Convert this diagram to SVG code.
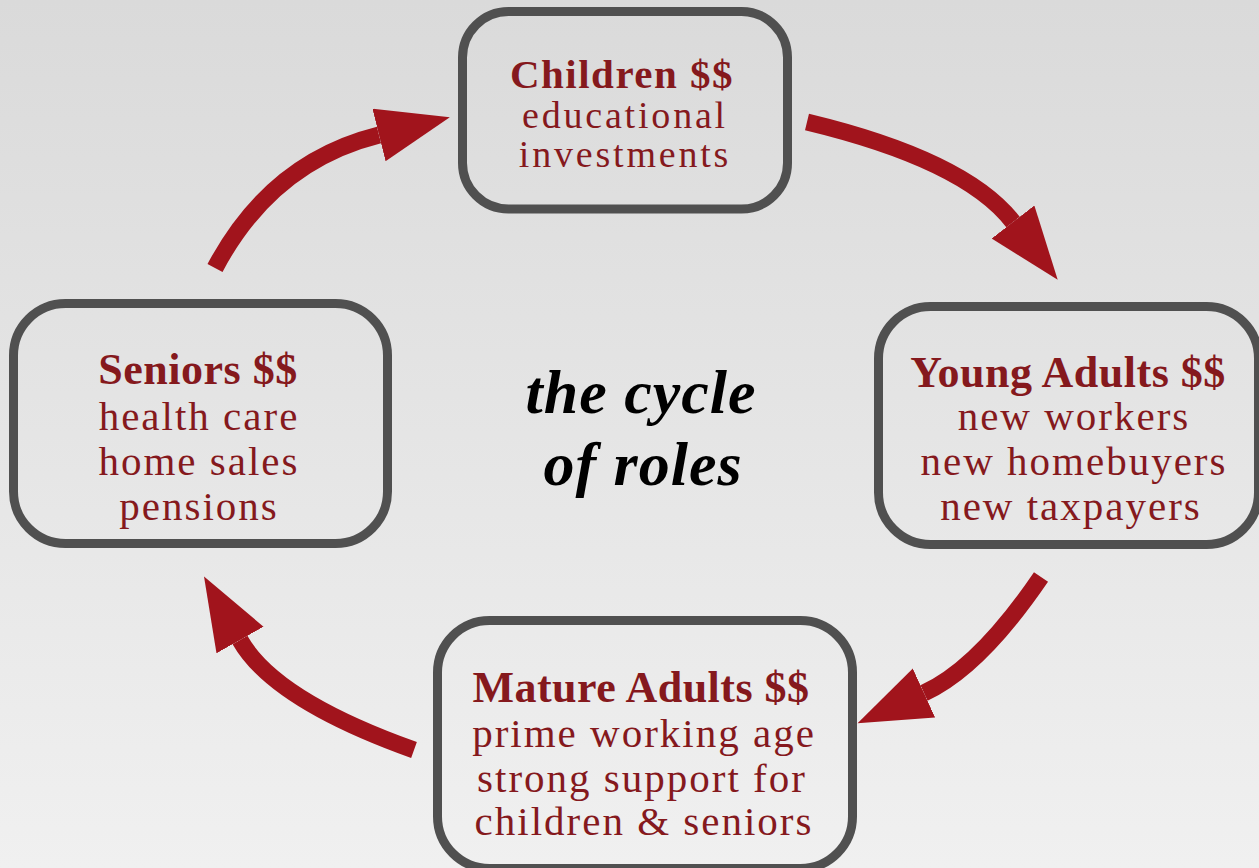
<svg xmlns="http://www.w3.org/2000/svg" width="1259" height="868" viewBox="0 0 1259 868">
  <defs>
    <linearGradient id="bg" x1="0" y1="0" x2="0" y2="1">
      <stop offset="0" stop-color="#dadada"/>
      <stop offset="1" stop-color="#f0f0f0"/>
    </linearGradient>
    <marker id="head" markerUnits="userSpaceOnUse" markerWidth="80" markerHeight="60" refX="0" refY="27" orient="auto" viewBox="0 0 80 60">
      <polygon points="0,0 73,27 0,54" fill="#a1141c"/>
    </marker>
    <style>
      .box { fill: none; stroke: #505050; stroke-width: 9; }
      .t { font-family: "Liberation Serif", "Times New Roman", serif; font-size: 41px; letter-spacing: 2px; fill: #85191d; text-anchor: middle; }
      .h { font-weight: bold; font-size: 44px; letter-spacing: 0.5px; }
      .s { font-size: 38px; letter-spacing: 2.8px; }
      .sh { font-size: 41px; letter-spacing: 1.5px; }
      .center { font-family: "Liberation Serif", "Times New Roman", serif; font-size: 62px; font-weight: bold; font-style: italic; letter-spacing: 1px; fill: #000; text-anchor: middle; }
      .arrow { fill: none; stroke: #a1141c; stroke-width: 17; marker-end: url(#head); }
    </style>
  </defs>
  <rect x="0" y="0" width="1259" height="868" fill="url(#bg)"/>

  <g id="connectors">
    <path class="arrow" d="M215,268 Q271,162 379,135"/>
    <path class="arrow" d="M807,122 Q965,160 1013,222"/>
    <path class="arrow" d="M1041,577 Q979,668 924,693"/>
    <path class="arrow" d="M414,750 Q274,700 240,640"/>
  </g>

  <g id="children">
    <rect class="box" x="462.5" y="11.5" width="325" height="197.5" rx="46"/>
    <text class="t h sh" x="622" y="88">Children $$</text>
    <text class="t s" x="625" y="128">educational</text>
    <text class="t s" x="625" y="167">investments</text>
  </g>

  <g id="young-adults">
    <rect class="box" x="878.5" y="306.5" width="380" height="238" rx="52"/>
    <text class="t h" x="1068" y="387">Young Adults $$</text>
    <text class="t" x="1074" y="430">new workers</text>
    <text class="t" x="1074" y="475">new homebuyers</text>
    <text class="t" x="1071" y="520">new taxpayers</text>
  </g>

  <g id="mature-adults">
    <rect class="box" x="437.5" y="620.5" width="415" height="248" rx="52"/>
    <text class="t h" x="641" y="702">Mature Adults $$</text>
    <text class="t" x="644" y="747">prime working age</text>
    <text class="t" x="642" y="792">strong support for</text>
    <text class="t" x="644" y="835">children &amp; seniors</text>
  </g>

  <g id="seniors">
    <rect class="box" x="13.5" y="303.5" width="374" height="240" rx="52"/>
    <text class="t h" x="198" y="384">Seniors $$</text>
    <text class="t" x="199" y="430">health care</text>
    <text class="t" x="199" y="475">home sales</text>
    <text class="t" x="199" y="520">pensions</text>
  </g>

  <g id="title">
    <text class="center" x="641" y="413">the cycle</text>
    <text class="center" x="643" y="485">of roles</text>
  </g>
</svg>
